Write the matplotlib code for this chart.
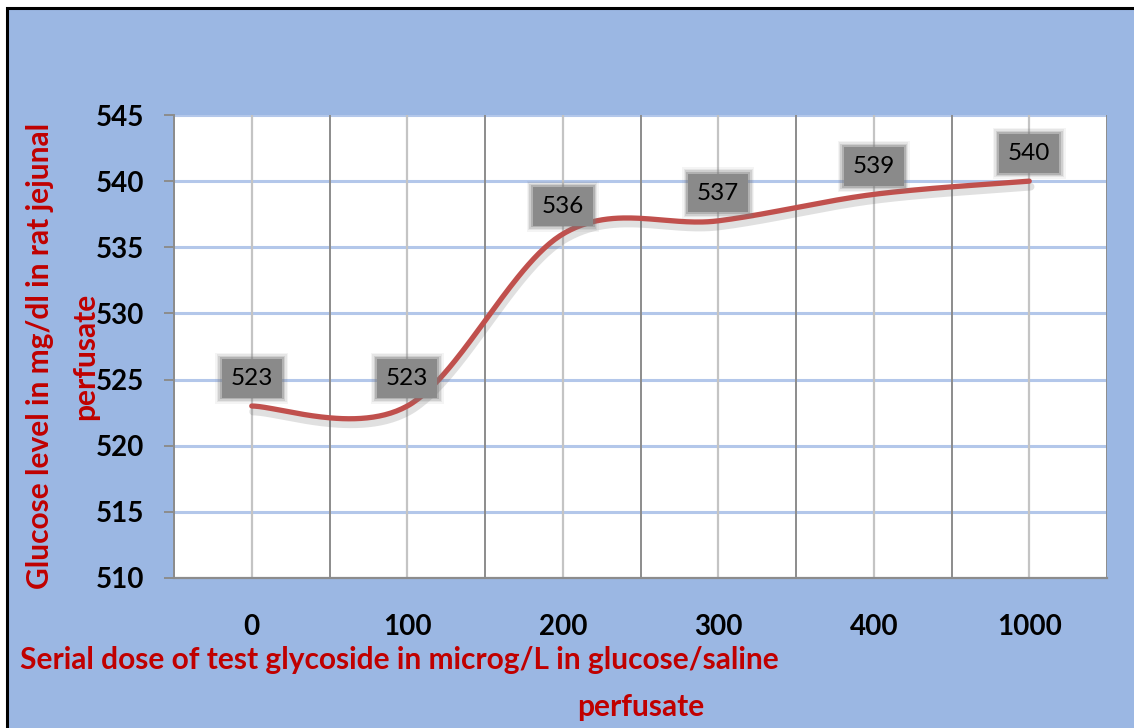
import matplotlib.pyplot as plt
import matplotlib.patheffects as pe
from matplotlib.patches import Rectangle
import numpy as np

doses = ['0', '100', '200', '300', '400', '1000']
glucose = [523, 523, 536, 537, 539, 540]
y_ticks = [510, 515, 520, 525, 530, 535, 540, 545]

ylabel_1 = 'Glucose level in mg/dl in rat jejunal'
ylabel_2 = 'perfusate'
xlabel_1 = 'Serial dose of test glycoside in microg/L in glucose/saline'
xlabel_2 = 'perfusate'

FONT = 'Lato'
RED_TXT = '#c00000'
LINE_RED = '#c0504d'
BG = '#9bb7e3'
plt.rcParams['font.family'] = FONT


def excel_smooth(xs, ys, n=60):
    # bezier smoothing like the spreadsheet "smoothed line" option
    pts = np.column_stack([xs, ys]).astype(float)
    out = []
    for i in range(len(pts) - 1):
        p0 = pts[i - 1] if i > 0 else pts[i]
        p1 = pts[i]
        p2 = pts[i + 1]
        p3 = pts[i + 2] if i + 2 < len(pts) else pts[i + 1]
        c1 = p1 + (p2 - p0) / 6
        c2 = p2 - (p3 - p1) / 6
        t = np.linspace(0, 1, n)[:, None]
        seg = ((1 - t) ** 3) * p1 + 3 * ((1 - t) ** 2) * t * c1 + 3 * (1 - t) * t ** 2 * c2 + t ** 3 * p2
        out.append(seg if i == 0 else seg[1:])
    out = np.vstack(out)
    return out[:, 0], out[:, 1]


fig = plt.figure(figsize=(11.34, 7.28), dpi=100)
fig.patch.set_facecolor('white')
fig.patches.append(Rectangle((7 / 1134, -0.1), 1.2, 1 - 8 / 728 + 0.1, transform=fig.transFigure,
                             facecolor=BG, edgecolor='black', linewidth=2.2, zorder=-5))

ax = fig.add_axes([174 / 1134, 1 - 578 / 728, (1107 - 174) / 1134, (578 - 115) / 728])
ax.set_zorder(2)
ax.set_facecolor('white')

x = np.arange(len(doses))
ax.set_xlim(-0.5, len(doses) - 0.5)
ax.set_ylim(510, 545)

# horizontal grid
for v in y_ticks[1:]:
    ax.axhline(v, color='#b3c7ea', lw=2.2, zorder=1)
# vertical grid: light at categories, darker at boundaries
for xi in x:
    ax.axvline(xi, color='#c4c4c4', lw=1.6, zorder=1)
for xb in np.arange(-0.5, len(doses), 1.0):
    ax.axvline(xb, color='#8c8c8c', lw=1.4, zorder=1)

sx, sy = excel_smooth(x, glucose)
ax.plot(sx, sy, color=LINE_RED, lw=3.8, solid_capstyle='round', zorder=3,
        path_effects=[pe.SimpleLineShadow(offset=(1.0, -4.0), shadow_color='#666666', alpha=0.2,
                                          linewidth=5.5),
                      pe.Normal()])

# data labels with a soft grey box
for xi, v in zip(x, glucose):
    for pad, alpha in [(0.62, 0.08), (0.56, 0.12), (0.50, 0.2), (0.44, 0.35)]:
        ax.annotate(str(v), (xi, v), xytext=(0, 20), textcoords='offset points',
                    ha='center', va='center', fontsize=17.5, color='none',
                    bbox=dict(boxstyle='square,pad=%s' % pad, fc='#7a7a7a', ec='none', alpha=alpha),
                    zorder=4)
    ax.annotate(str(v), (xi, v), xytext=(0, 20), textcoords='offset points',
                ha='center', va='center', fontsize=17.5, color='black',
                bbox=dict(boxstyle='square,pad=0.36', fc='#8a8a8a', ec='none'),
                zorder=5)

ax.set_yticks(y_ticks, labels=[str(v) for v in y_ticks], fontsize=20, fontweight='bold')
ax.set_xticks(x, labels=doses, fontsize=20, fontweight='bold')
ax.tick_params(axis='y', length=7.5, width=1.4, color='#8c8c8c', pad=14)
ax.tick_params(axis='x', length=0, pad=26)

for side in ['top', 'right']:
    ax.spines[side].set_visible(False)
ax.spines['left'].set_color('#8c8c8c')
ax.spines['left'].set_linewidth(1.4)
ax.spines['bottom'].set_color('#8c8c8c')
ax.spines['bottom'].set_linewidth(1.6)

fs_lab = 21.5
fig.text(40 / 1134, 1 - 356 / 728, ylabel_1, rotation=90, ha='center', va='center',
         fontsize=fs_lab, fontweight='bold', color=RED_TXT)
fig.text(85 / 1134, 1 - 356 / 728, ylabel_2, rotation=90, ha='center', va='center',
         fontsize=fs_lab, fontweight='bold', color=RED_TXT)
fig.text(20 / 1134, 1 - 660 / 728, xlabel_1, ha='left', va='center',
         fontsize=fs_lab, fontweight='bold', color=RED_TXT)
fig.text(641 / 1134, 1 - 707 / 728, xlabel_2, ha='center', va='center',
         fontsize=fs_lab, fontweight='bold', color=RED_TXT)

fig.savefig('out.png', dpi=100, facecolor=fig.get_facecolor())
